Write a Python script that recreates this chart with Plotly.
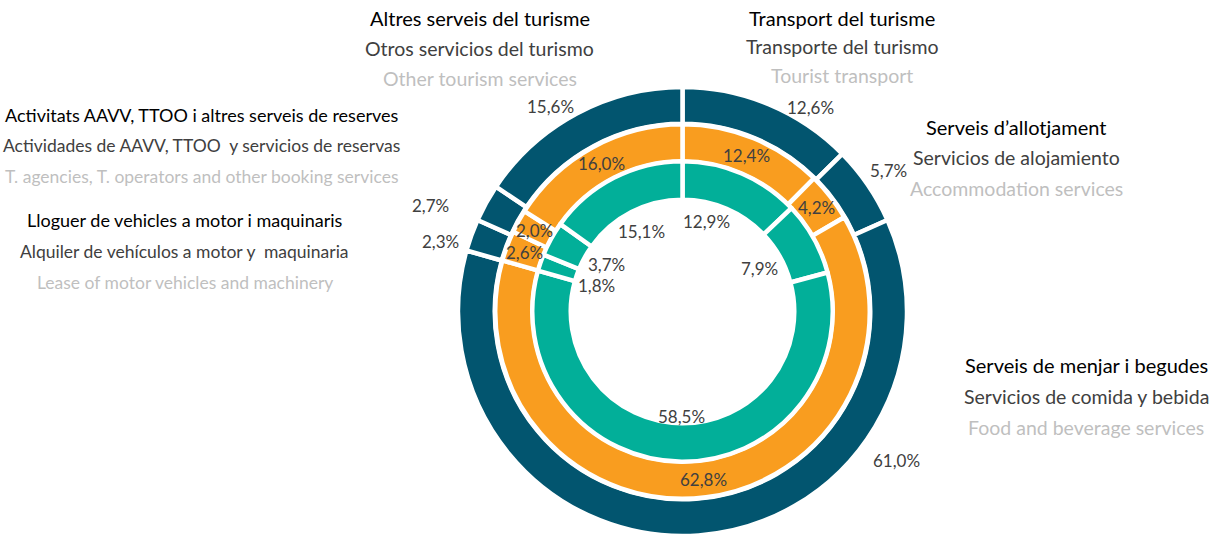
import math
import plotly.graph_objects as go

# ---- data (clockwise from 12 o'clock) ----
cat_ca = ["Transport del turisme", "Serveis d\u2019allotjament", "Serveis de menjar i begudes",
          "Lloguer de vehicles a motor i maquinaris", "Activitats AAVV, TTOO i altres serveis de reserves",
          "Altres serveis del turisme"]
cat_es = ["Transporte del turismo", "Servicios de alojamiento", "Servicios de comida y bebida",
          "Alquiler de veh\u00edculos a motor y \u00a0maquinaria", "Actividades de AAVV, TTOO \u00a0y servicios de reservas",
          "Otros servicios del turismo"]
cat_en = ["Tourist transport", "Accommodation services", "Food and beverage services",
          "Lease of motor vehicles and machinery", "T. agencies, T. operators and other booking services",
          "Other tourism services"]
outer_vals = [12.6, 5.7, 61.0, 2.3, 2.7, 15.6]
middle_vals = [12.4, 4.2, 62.8, 2.6, 2.0, 16.0]
inner_vals = [12.9, 7.9, 58.5, 1.8, 3.7, 15.1]

# ---- layout constants ----
W, H = 1221, 536
CX, CY = 682.5, 311.5          # pie centre in px from top-left
LW = 4.5                        # white separator width
C_OUT, C_MID, C_IN = "#02556F", "#F99D1F", "#02AF99"
FONT = "Segoe UI, Lato, Open Sans, sans-serif"

def ring(values, color, vis_out, vis_in, r_cap=None):
    R = vis_out + LW / 2
    if r_cap is not None:
        R = min(R, r_cap)
    hole_r = vis_in - LW / 2
    cyb = H - CY
    return go.Pie(
        values=values, labels=cat_ca, sort=False, direction="clockwise", rotation=0,
        hole=hole_r / R, textinfo="none", hoverinfo="label+value", showlegend=False,
        marker=dict(colors=[color] * len(values), line=dict(color="white", width=LW)),
        domain=dict(x=[(CX - R) / W, (CX + R) / W], y=[(cyb - R) / H, (cyb + R) / H]),
    )

fig = go.Figure()
fig.add_trace(ring(outer_vals, C_OUT, 224, 190, r_cap=H - CY))
fig.add_trace(ring(middle_vals, C_MID, 185, 152))
fig.add_trace(ring(inner_vals, C_IN, 148, 114))

def fmt(v):
    return f"{v:.1f}".replace(".", ",") + "%"

def mid_angles(values):
    tot = sum(values)
    out, cum = [], 0
    for v in values:
        out.append((cum + v / 2) / tot * 360)
        cum += v
    return out

def add_polar_label(text, ang, r, size=17, color="#404040"):
    x = CX + r * math.sin(math.radians(ang))
    y = CY - r * math.cos(math.radians(ang))
    fig.add_annotation(x=x / W, y=1 - y / H, xref="paper", yref="paper", text=text,
                       showarrow=False, xanchor="center", yanchor="middle",
                       font=dict(family=FONT, size=size, color=color))

# label placement tweaks (degrees / px) — presentation only
outer_shift = [9.3, 0, -51, -3.8, -6.1, -4.6]
outer_r = [241, 250, 261, 252, 273, 244]
inner_shift = [-8, 0, 0, -2, 3, 0]
inner_r = [93, 88, 105, 90, 89, 90]

for v, a, s, r in zip(outer_vals, mid_angles(outer_vals), outer_shift, outer_r):
    add_polar_label(fmt(v), a + s, r)
for v, a in zip(middle_vals, mid_angles(middle_vals)):
    add_polar_label(fmt(v), a, 169)
for v, a, s, r in zip(inner_vals, mid_angles(inner_vals), inner_shift, inner_r):
    add_polar_label(fmt(v), a + s, r)

# category title blocks: centre x, first-line y, line spacing (px), font size
title_pos = [(842, 18, 28.5, 19.5), (1016, 127, 30.5, 19.5), (1086, 365, 31, 19.5),
             (184.5, 220, 31, 17.5), (201.5, 115, 30.5, 17.5), (480, 18, 30.5, 19.5)]
line_colors = ["#000000", "#404040", "#BFBFBF"]
for i, (x, y0, dy, fs) in enumerate(title_pos):
    for j, txt in enumerate([cat_ca[i], cat_es[i], cat_en[i]]):
        fig.add_annotation(x=x / W, y=1 - (y0 + j * dy) / H, xref="paper", yref="paper",
                           text=txt, showarrow=False, xanchor="center", yanchor="middle",
                           font=dict(family=FONT, size=fs + (0.5 if j == 0 else 0),
                                     color=line_colors[j]))

fig.update_layout(width=W, height=H, margin=dict(l=0, r=0, t=0, b=0),
                  paper_bgcolor="white", plot_bgcolor="white")

fig.write_html("out.html", config={"displayModeBar": False},
               post_script="document.body.style.margin='0';")
